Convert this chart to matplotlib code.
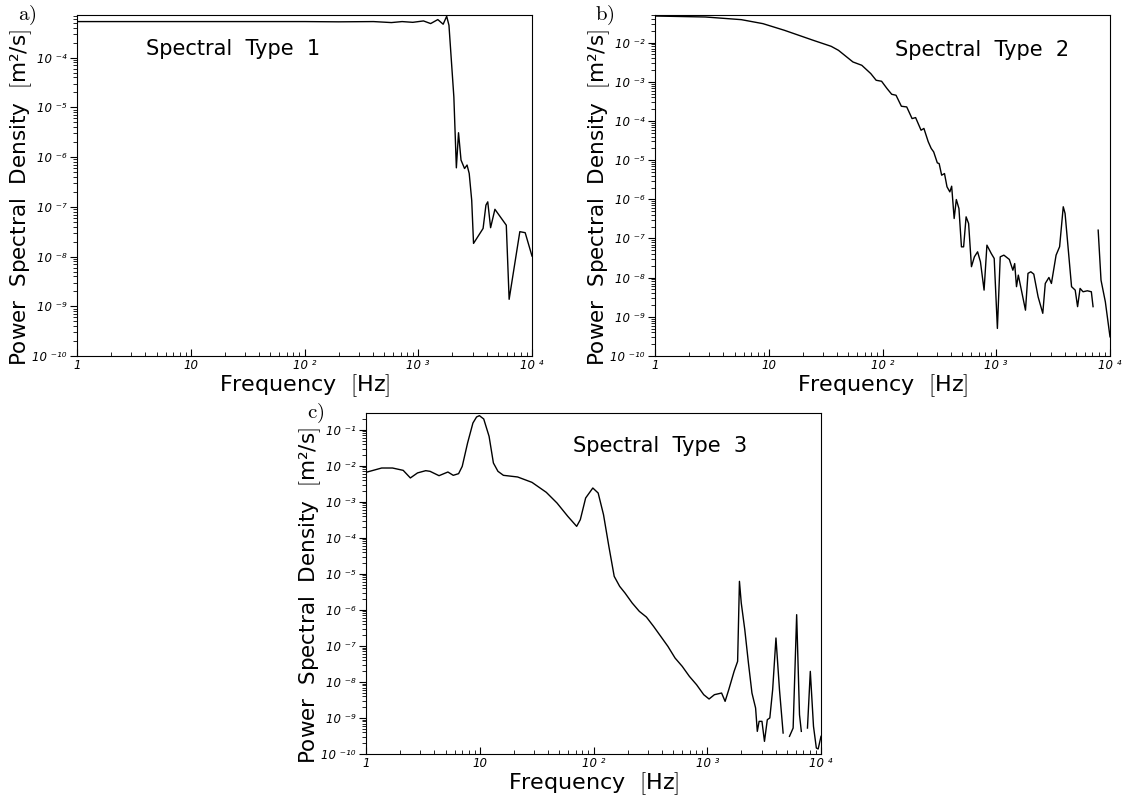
import numpy as np
import matplotlib
matplotlib.use("Agg")
from matplotlib import pyplot as plt
from matplotlib import ticker

plt.rcParams['mathtext.fontset'] = 'cm'

# spectral type 1 (log10 f, log10 psd)
a_logf = [0.0, 1.0, 2.0, 2.3, 2.607, 2.764, 2.858, 2.952, 3.046, 3.109, 3.172, 3.219, 3.25,
          3.27, 3.313, 3.335, 3.354, 3.376, 3.407, 3.429, 3.448, 3.47, 3.486, 3.57, 3.595,
          3.611, 3.636, 3.674, 3.774, 3.799, 3.893, 3.94, 4.0]
a_logp = [-3.275, -3.275, -3.275, -3.28, -3.275, -3.295, -3.275, -3.29, -3.262, -3.315, -3.235,
          -3.328, -3.168, -3.35, -4.79, -6.216, -5.51, -6.06, -6.23, -6.16, -6.33, -6.87,
          -7.736, -7.435, -6.966, -6.90, -7.42, -7.05, -7.37, -8.86, -7.50, -7.52, -7.99]

# spectral type 2
b_logf = [0.0, 0.443, 0.759, 0.949, 1.138, 1.391, 1.549, 1.613, 1.74, 1.818, 1.897, 1.944,
          1.992, 2.04, 2.081, 2.119, 2.166, 2.213, 2.26, 2.291, 2.339, 2.364, 2.402, 2.428,
          2.45, 2.482, 2.498, 2.52, 2.545, 2.567, 2.592, 2.608, 2.63, 2.649, 2.672, 2.694,
          2.713, 2.735, 2.757, 2.782, 2.808, 2.836, 2.861, 2.893, 2.918, 2.956, 2.982, 3.01,
          3.035, 3.067, 3.115, 3.146, 3.162, 3.178, 3.194, 3.257, 3.279, 3.304, 3.33, 3.368,
          3.409, 3.431, 3.463, 3.485, 3.526, 3.557, 3.589, 3.605, 3.662, 3.694, 3.715, 3.737,
          3.763, 3.801, 3.836, 3.851, 3.87, 3.896, 3.921, 3.959, 4.0]
b_logp = [-1.32, -1.345, -1.413, -1.515, -1.685, -1.94, -2.094, -2.196, -2.493, -2.578, -2.79,
          -2.96, -2.986, -3.173, -3.318, -3.343, -3.624, -3.641, -3.939, -3.913, -4.236, -4.19,
          -4.53, -4.70, -4.79, -5.07, -5.087, -5.384, -5.342, -5.68, -5.81, -5.665, -6.49,
          -6.005, -6.235, -7.213, -7.213, -6.447, -6.617, -7.72, -7.467, -7.34, -7.595, -8.318,
          -7.17, -7.383, -7.51, -9.296, -7.468, -7.425, -7.535, -7.81, -7.64, -8.23, -7.935,
          -8.83, -7.89, -7.85, -7.91, -8.49, -8.91, -8.148, -7.995, -8.148, -7.425, -7.21,
          -6.19, -6.36, -8.23, -8.318, -8.74, -8.275, -8.36, -8.335, -8.36, -8.74, np.nan,
          -6.787, -8.063, -8.616, -9.51]

# spectral type 3
c_logf = [0.0, 0.138, 0.233, 0.327, 0.39, 0.453, 0.525, 0.563, 0.642, 0.72, 0.767, 0.814,
          0.846, 0.893, 0.94, 0.972, 0.997, 1.035, 1.082, 1.12, 1.16, 1.208, 1.333, 1.459,
          1.585, 1.679, 1.774, 1.852, 1.884, 1.931, 1.994, 2.041, 2.088, 2.135, 2.182, 2.23,
          2.277, 2.34, 2.403, 2.465, 2.528, 2.591, 2.654, 2.717, 2.78, 2.843, 2.906, 2.969,
          3.016, 3.063, 3.126, 3.157, 3.189, 3.236, 3.267, 3.283, 3.299, 3.33, 3.362, 3.393,
          3.425, 3.44, 3.456, 3.481, 3.503, 3.528, 3.55, 3.575, 3.604, 3.635, 3.667, 3.69,
          3.723, 3.755, 3.786, 3.811, 3.827, 3.85, 3.881, 3.906, 3.934, 3.959, 3.975, 4.0]
c_logp = [-2.184, -2.064, -2.064, -2.129, -2.34, -2.2, -2.138, -2.156, -2.277, -2.175, -2.267,
          -2.221, -2.018, -1.37, -0.815, -0.648, -0.611, -0.704, -1.185, -1.925, -2.156,
          -2.267, -2.313, -2.462, -2.739, -3.035, -3.405, -3.683, -3.498, -2.896, -2.619,
          -2.758, -3.359, -4.238, -5.07, -5.348, -5.533, -5.81, -6.042, -6.199, -6.458,
          -6.735, -7.013, -7.337, -7.568, -7.846, -8.077, -8.354, -8.474, -8.354, -8.308,
          -8.539, -8.216, -7.707, -7.429, -5.209, -5.81, -6.55, -7.475, -8.308, -8.724,
          -9.372, -9.094, -9.094, -9.649, -9.048, -9.0, -8.216, -6.781, -8.216, -9.418, np.nan,
          -9.51, -9.28, -6.134, -8.91, -9.372, np.nan, -9.28, -7.707, -9.233, -9.834, -9.86,
          -9.51]

panels = [
    ("a)", "Spectral  Type  1", a_logf, a_logp, 7.2e-4, (0.152, 0.90)),
    ("b)", "Spectral  Type  2", b_logf, b_logp, 0.0508, (0.528, 0.896)),
    ("c)", "Spectral  Type  3", c_logf, c_logp, 0.29, (0.454, 0.902)),
]

W, H = 1124, 801
boxes = [(77, 15), (655, 15), (366, 413)]
aw, ah = 455, 341

sup = str.maketrans("-0123456789", "⁻⁰¹²³⁴⁵⁶⁷⁸⁹")


def fmt(v, pos):
    e = int(round(np.log10(v)))
    if e == 0:
        return "1"
    if e == 1:
        return "10"
    return "10 " + str(e).translate(sup)


fig = plt.figure(figsize=(W / 100, H / 100), dpi=100)

for (tag, title, lf, lp, ytop, tpos), (x0, y0) in zip(panels, boxes):
    ax = fig.add_axes([x0 / W, (H - y0 - ah) / H, aw / W, ah / H])
    f = 10 ** np.array(lf)
    p = 10 ** np.array(lp)
    ax.plot(f, p, color="black", lw=1.0)
    ax.set_xscale("log")
    ax.set_yscale("log")
    ax.set_xlim(1, 1e4)
    ax.set_ylim(1e-10, ytop)
    ax.xaxis.set_major_formatter(ticker.FuncFormatter(fmt))
    ax.yaxis.set_major_formatter(ticker.FuncFormatter(fmt))
    ax.xaxis.set_minor_formatter(ticker.NullFormatter())
    ax.yaxis.set_minor_formatter(ticker.NullFormatter())
    ax.yaxis.set_major_locator(ticker.LogLocator(base=10, numticks=20))
    ax.yaxis.set_minor_locator(ticker.LogLocator(base=10, subs=np.arange(2, 10), numticks=20))
    ax.tick_params(axis="x", which="both", direction="in", top=False)
    ax.tick_params(axis="y", which="both", direction="out", right=False)
    ax.tick_params(which="major", length=5, width=0.8, labelsize=8.5, pad=2.5)
    ax.tick_params(which="minor", length=3, width=0.6)
    for lab in ax.get_xticklabels() + ax.get_yticklabels():
        lab.set_fontstyle("italic")
    ax.set_xlabel("Frequency  $[$Hz$]$", fontsize=16, labelpad=0)
    ax.set_ylabel("Power  Spectral  Density  $[$m²/s$]$", fontsize=15.5)
    ax.yaxis.set_label_coords(-0.094, 0.465)
    ax.text(tpos[0], tpos[1], title, transform=ax.transAxes, fontsize=15,
            ha="left", va="center")
    ax.text(-0.11, 0.998, r"$\mathrm{" + tag + "}$", transform=ax.transAxes,
            fontsize=15, ha="center", va="center")

fig.savefig("out.png", dpi=100)
